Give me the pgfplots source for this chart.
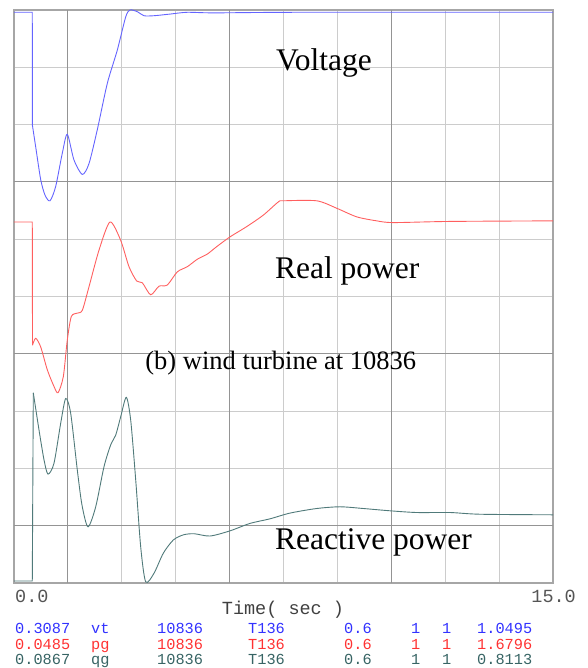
\documentclass[border=0pt]{standalone}
\usepackage{fontspec}
\setmainfont{Liberation Serif}
\newfontfamily\mono{Liberation Mono}
\usepackage{pgfplots}
\pgfplotsset{compat=1.18}
\definecolor{vblue}{RGB}{100,100,255}
\definecolor{pred}{RGB}{255,95,95}
\definecolor{qteal}{RGB}{80,122,122}
\definecolor{tblue}{RGB}{50,50,255}
\definecolor{tred}{RGB}{255,50,50}
\definecolor{tteal}{RGB}{55,100,100}
\definecolor{tgray}{RGB}{85,85,85}
\begin{document}
\begin{tikzpicture}[x=1pt,y=1pt]
\useasboundingbox (0,0) rectangle (587,668);
\begin{axis}[
  at={(14pt,85pt)}, anchor=south west,
  scale only axis, width=539pt, height=573pt,
  xmin=0, xmax=15, ymin=0, ymax=10,
  xtick={0,1.5,3,4.5,6,7.5,9,10.5,12,13.5,15},
  ytick={0,1,2,3,4,5,6,7,8,9,10},
  xticklabels={}, yticklabels={},
  major tick length=0pt,
  grid=major,
  grid style={color=black!20, line width=0.9pt},
  extra x ticks={1.5,6,10.5}, extra x tick labels={},
  extra x tick style={grid style={color=black!42, line width=0.9pt}},
  extra y ticks={1,4,7}, extra y tick labels={},
  extra y tick style={grid style={color=black!42, line width=0.9pt}},
  axis line style={color=black!35, line width=1.6pt},
  every axis plot/.append style={line width=0.9pt},
]
% Voltage
\addplot[vblue] coordinates {(0,9.96) (0.509,9.96) (0.512,7.99)};
\addplot[vblue, smooth, tension=0.45] coordinates {
(0.512,7.99) (0.604,7.61) (0.743,7.04) (0.863,6.77) (1.002,6.67) (1.160,6.92)
(1.344,7.50) (1.483,7.83) (1.670,7.38) (1.901,7.13) (2.087,7.32) (2.318,7.91)
(2.597,8.72) (2.875,9.30) (3.109,9.88) (3.228,10.00) (3.431,9.97) (3.618,9.90)
(3.896,9.90) (4.361,9.93) (4.823,9.96) (5.566,9.95) (7.960,9.96) (15,9.96)};
% Real power
\addplot[pred] coordinates {(0,6.30) (0.509,6.30) (0.515,4.15)};
\addplot[pred, smooth, tension=0.45] coordinates {
(0.515,4.15) (0.604,4.27) (0.743,4.12) (0.927,3.72) (1.113,3.43) (1.225,3.32)
(1.372,3.60) (1.483,4.24) (1.595,4.65) (1.762,4.71) (1.901,4.76) (2.087,5.17)
(2.366,5.81) (2.672,6.30) (2.969,5.98) (3.200,5.52) (3.415,5.27) (3.571,5.24)
(3.804,5.03) (4.035,5.18) (4.266,5.20) (4.545,5.43) (4.823,5.52) (5.101,5.65)
(5.379,5.74) (5.641,5.87) (6.011,6.04) (6.476,6.22) (6.938,6.42) (7.355,6.65)
(7.495,6.67) (8.424,6.67) (8.981,6.54) (9.537,6.39) (10.094,6.32) (10.556,6.29)
(12.134,6.31) (15,6.32)};
% Reactive power
\addplot[qteal] coordinates {(0,0.035) (0.509,0.035) (0.537,3.32)};
\addplot[qteal, smooth, tension=0.45] coordinates {
(0.537,3.32) (0.696,2.67) (0.835,2.15) (0.946,1.90) (1.113,2.09) (1.300,2.79)
(1.439,3.22) (1.578,2.96) (1.762,1.97) (1.892,1.36) (2.059,0.98) (2.274,1.33)
(2.505,2.03) (2.691,2.41) (2.830,2.58) (2.969,2.90) (3.125,3.24) (3.248,2.84)
(3.387,1.80) (3.526,0.63) (3.665,0.02) (3.896,0.17) (4.155,0.52) (4.433,0.75)
(4.712,0.84) (5.009,0.86) (5.455,0.82) (6.011,0.91) (6.568,1.04) (7.125,1.12)
(7.681,1.22) (8.424,1.30) (9.073,1.33) (9.721,1.30) (10.464,1.26) (11.207,1.23)
(12.134,1.23) (12.969,1.20) (15,1.19)};
\begin{scope}[every node/.style={inner sep=0pt, anchor=base west, font=\fontsize{31.5}{36}\selectfont}]
\node at (axis cs:7.29,8.95) {Voltage};
\node at (axis cs:7.26,5.31) {Real power};
\node at (axis cs:7.26,0.58) {Reactive power};
\node[font=\fontsize{26.5}{30}\selectfont] at (axis cs:3.65,3.72) {(b) wind turbine at\ 10836};
\end{scope}
\end{axis}
\begin{scope}[every node/.style={inner sep=0pt, anchor=base west}]
\node[font=\mono\fontsize{18.5}{20}\selectfont, text=tgray] at (15,65) {0.0};
\node[font=\mono\fontsize{18.5}{20}\selectfont, text=tgray, anchor=base east] at (576,65) {15.0};
\node[font=\mono\fontsize{18.5}{20}\selectfont, text=black!75, anchor=base] at (283,53) {Time( sec )};
\foreach \y/\c/\a/\b/\e in {34/tblue/0.3087/vt/1.0495, 18/tred/0.0485/pg/1.6796, 3/tteal/0.0867/qg/0.8113}{
  \begin{scope}[every node/.append style={font=\mono\fontsize{15.3}{16}\selectfont, text=\c}]
  \node at (15,\y) {\a};
  \node at (91,\y) {\b};
  \node at (157,\y) {10836};
  \node at (248,\y) {T136};
  \node at (344,\y) {0.6};
  \node at (411,\y) {1};
  \node at (442,\y) {1};
  \node at (477,\y) {\e};
  \end{scope}
}
\end{scope}
\end{tikzpicture}
\end{document}
